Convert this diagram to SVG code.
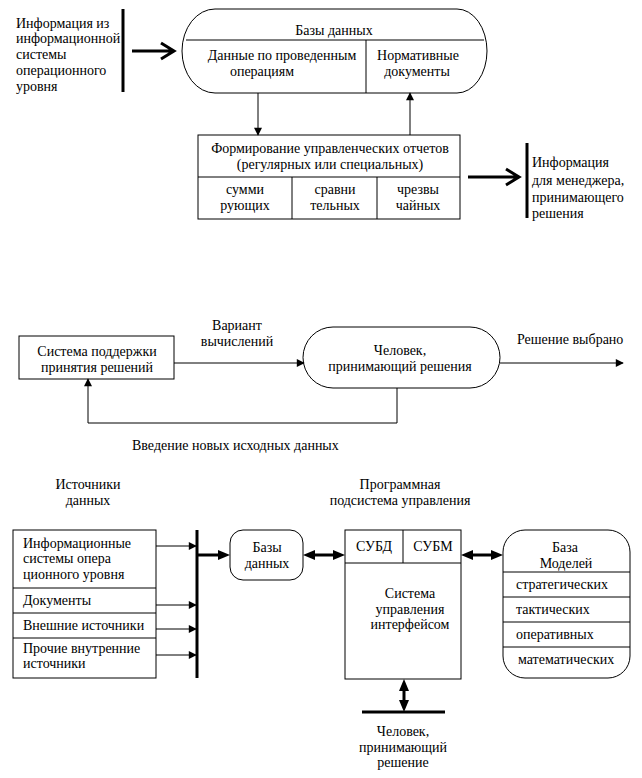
<svg xmlns="http://www.w3.org/2000/svg" width="642" height="778" viewBox="0 0 642 778" font-family="Liberation Serif, serif">
<style>
text{font-family:'Liberation Serif',serif;font-size:14px;fill:#000}
.c{text-anchor:middle}
.s{fill:#fff;stroke:#000;stroke-width:1}
.l{fill:none;stroke:#000;stroke-width:1}
.t{fill:none;stroke:#000;stroke-width:3}
</style>
<defs>
<marker id="a" viewBox="0 0 10 10" refX="9" refY="5" markerWidth="9" markerHeight="8" markerUnits="userSpaceOnUse" orient="auto-start-reverse"><path d="M0,0 L10,5 L0,10 z" fill="#000"/></marker>
<marker id="b" viewBox="0 0 12 10" refX="4" refY="5" markerWidth="12" markerHeight="11" markerUnits="userSpaceOnUse" orient="auto-start-reverse"><path d="M0,0 L12,5 L0,10 z" fill="#000"/></marker>
</defs>
<rect width="642" height="778" fill="#fff"/>

<!-- ===== Section 1 ===== -->
<g id="info-in">
<text x="16" y="28">Информация из</text>
<text x="16" y="43">информационной</text>
<text x="16" y="59">системы</text>
<text x="16" y="75">операционного</text>
<text x="16" y="91">уровня</text>
<line x1="123" y1="9" x2="123" y2="92" class="t"/>
</g>
<g id="databases">
<path d="M215,9 H457 A30,42 0 0 1 457,93 H215 A33,42 0 0 1 215,9 Z" class="s"/>
<line x1="186" y1="40" x2="484" y2="40" class="l"/>
<line x1="366" y1="40" x2="366" y2="93" class="l"/>
<text x="334" y="35" class="c">Базы данных</text>
<text x="282" y="60" class="c">Данные по проведенным</text>
<text x="262" y="76" class="c">операциям</text>
<text x="418" y="60" class="c">Нормативные</text>
<text x="417" y="76" class="c">документы</text>
</g>
<g id="reports">
<rect x="198" y="135" width="262" height="84" class="s"/>
<line x1="198" y1="177" x2="460" y2="177" class="l"/>
<line x1="292" y1="177" x2="292" y2="219" class="l"/>
<line x1="377" y1="177" x2="377" y2="219" class="l"/>
<text x="330" y="153" class="c">Формирование управленческих отчетов</text>
<text x="330" y="169" class="c">(регулярных или специальных)</text>
<text x="245" y="194" class="c">сумми</text>
<text x="245" y="210" class="c">рующих</text>
<text x="335" y="194" class="c">сравни</text>
<text x="335" y="210" class="c">тельных</text>
<text x="418" y="194" class="c">чрезвы</text>
<text x="418" y="210" class="c">чайных</text>
</g>
<g id="info-out">
<line x1="527" y1="143" x2="527" y2="218" class="t"/>
<text x="532" y="167">Информация</text>
<text x="532" y="185">для менеджера,</text>
<text x="532" y="202">принимающего</text>
<text x="532" y="218">решения</text>
</g>

<!-- ===== Section 2 ===== -->
<g id="dss">
<rect x="19" y="336" width="155" height="43" class="s"/>
<text x="97" y="356" class="c">Система поддержки</text>
<text x="97" y="372" class="c">принятия решений</text>
</g>
<g id="person">
<path d="M333,327 H470 A30,30.5 0 0 1 470,388 H333 A30,30.5 0 0 1 333,327 Z" class="s"/>
<text x="400" y="355" class="c">Человек,</text>
<text x="400" y="371" class="c">принимающий решения</text>
</g>
<g id="labels2">
<text x="237" y="330" class="c">Вариант</text>
<text x="237" y="346" class="c">вычислений</text>
<text x="517" y="344">Решение выбрано</text>
<text x="132" y="450">Введение новых исходных данных</text>
</g>

<!-- ===== Section 3 ===== -->
<g id="headers3">
<text x="88" y="489" class="c">Источники</text>
<text x="88" y="505" class="c">данных</text>
<text x="400" y="489" class="c">Программная</text>
<text x="400" y="505" class="c">подсистема управления</text>
</g>
<g id="sources">
<rect x="13" y="530" width="143" height="148" class="s"/>
<line x1="13" y1="588" x2="156" y2="588" class="l"/>
<line x1="13" y1="613" x2="156" y2="613" class="l"/>
<line x1="13" y1="638" x2="156" y2="638" class="l"/>
<text x="23" y="548">Информационные</text>
<text x="23" y="563">системы опера</text>
<text x="23" y="579">ционного уровня</text>
<text x="23" y="605">Документы</text>
<text x="23" y="630">Внешние источники</text>
<text x="23" y="653">Прочие внутренние</text>
<text x="23" y="668">источники</text>
<line x1="197" y1="530" x2="197" y2="678" class="t"/>
</g>
<g id="db3">
<rect x="230" y="530" width="73" height="50" rx="13" ry="13" class="s"/>
<text x="267" y="552" class="c">Базы</text>
<text x="267" y="568" class="c">данных</text>
</g>
<g id="control">
<rect x="345" y="530" width="116" height="149" class="s"/>
<line x1="345" y1="563" x2="461" y2="563" class="l"/>
<line x1="403" y1="530" x2="403" y2="563" class="l"/>
<text x="374" y="551" class="c">СУБД</text>
<text x="433" y="551" class="c">СУБМ</text>
<text x="410" y="598" class="c">Система</text>
<text x="410" y="614" class="c">управления</text>
<text x="410" y="629" class="c">интерфейсом</text>
</g>
<g id="models">
<rect x="503" y="530" width="127" height="148" rx="22" ry="22" class="s"/>
<line x1="503" y1="572" x2="630" y2="572" class="l"/>
<line x1="503" y1="597" x2="630" y2="597" class="l"/>
<line x1="503" y1="622" x2="630" y2="622" class="l"/>
<line x1="503" y1="647" x2="630" y2="647" class="l"/>
<text x="565" y="552" class="c">База</text>
<text x="566" y="568" class="c">Моделей</text>
<text x="516" y="589">стратегических</text>
<text x="516" y="614">тактических</text>
<text x="516" y="639">оперативных</text>
<text x="518" y="664">математических</text>
</g>
<g id="person3">
<line x1="362" y1="712" x2="445" y2="712" class="t"/>
<text x="403" y="736" class="c">Человек,</text>
<text x="403" y="752" class="c">принимающий</text>
<text x="403" y="767" class="c">решение</text>
</g>

<g id="connectors">
<path d="M132,51 H172 M161,43 L174,51 L161,59" class="t"/>
<line x1="258" y1="93" x2="258" y2="135" class="l" marker-end="url(#a)"/>
<line x1="410" y1="135" x2="410" y2="93" class="l" marker-end="url(#a)"/>
<path d="M468,177 H517 M506,169 L519,177 L506,185" class="t"/>
<line x1="174" y1="363" x2="304" y2="363" class="l" marker-end="url(#a)"/>
<line x1="500" y1="363" x2="623" y2="363" class="l" marker-end="url(#a)"/>
<path d="M397,388 V423 H88 V379" class="l" marker-end="url(#a)"/>
<line x1="156" y1="546" x2="196" y2="546" class="l" marker-end="url(#a)"/>
<line x1="156" y1="605" x2="196" y2="605" class="l" marker-end="url(#a)"/>
<line x1="156" y1="629" x2="196" y2="629" class="l" marker-end="url(#a)"/>
<line x1="156" y1="655" x2="196" y2="655" class="l" marker-end="url(#a)"/>
<line x1="198" y1="555" x2="222" y2="555" class="t" marker-end="url(#b)"/>
<line x1="311" y1="555" x2="337" y2="555" class="t" marker-start="url(#b)" marker-end="url(#b)"/>
<line x1="469" y1="555" x2="495" y2="555" class="t" marker-start="url(#b)" marker-end="url(#b)"/>
<line x1="404" y1="687" x2="404" y2="704" class="t" marker-start="url(#b)" marker-end="url(#b)"/>
</g>
</svg>
